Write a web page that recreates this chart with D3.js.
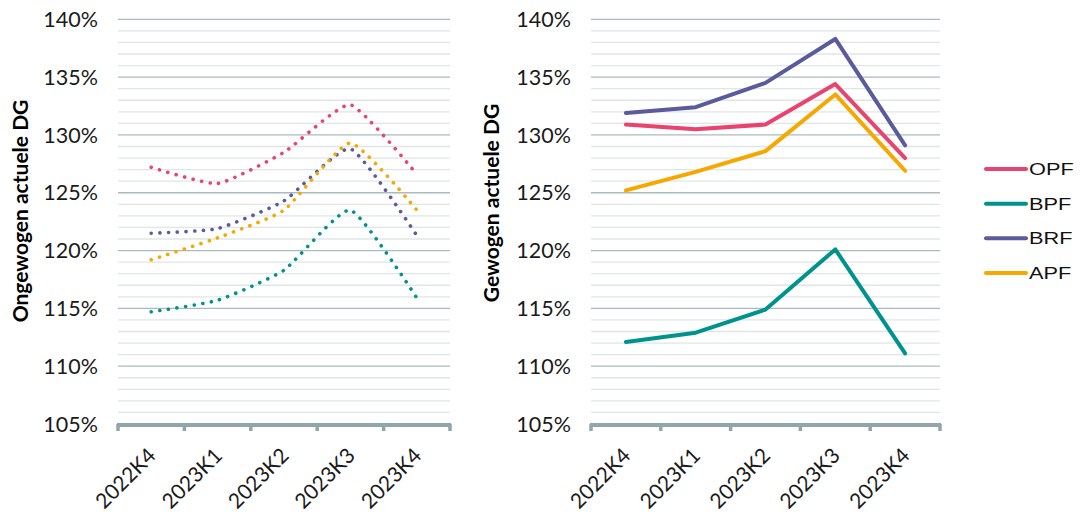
<!DOCTYPE html>
<html>
<head>
<meta charset="utf-8">
<script src="https://cdn.jsdelivr.net/npm/d3@7"></script>
<style>
  html, body { margin: 0; padding: 0; background: #ffffff; }
  svg { display: block; }
</style>
</head>
<body>
<svg id="chart" width="1083" height="512"></svg>
<script>
// Quarters on the x axis
const quarters = ["2022K4", "2023K1", "2023K2", "2023K3", "2023K4"];

// Series names and colours (legend order)
const seriesNames = ["OPF", "BPF", "BRF", "APF"];
const seriesColors = ["#e8446f", "#00938b", "#5a5a9c", "#f6a800"];

// Unweighted current coverage ratio (percent)
const unweightedOPF = [127.2, 125.8, 128.5, 132.6, 126.6];
const unweightedBPF = [114.7, 115.7, 118.3, 123.5, 115.9];
const unweightedBRF = [121.5, 121.9, 124.3, 128.8, 121.3];
const unweightedAPF = [119.2, 121.1, 123.5, 129.3, 123.5];

// Weighted current coverage ratio (percent)
const weightedOPF = [130.9, 130.5, 130.9, 134.4, 128.0];
const weightedBPF = [112.1, 112.9, 114.9, 120.1, 111.1];
const weightedBRF = [131.9, 132.4, 134.5, 138.3, 129.1];
const weightedAPF = [125.2, 126.8, 128.6, 133.5, 126.9];

// Axis ticks
const majorTicks = [105, 110, 115, 120, 125, 130, 135, 140];
const minorTicks = d3.range(105, 141, 1);

const svg = d3.select("#chart");

function drawPanel(opts) {
  const g = svg.append("g");
  const x = d3.scaleBand().domain(quarters).range([opts.x0, opts.x1]).padding(0);
  const y = d3.scaleLinear().domain([105, 140]).range([424, 19.3]);

  // minor gridlines
  g.append("g").selectAll("line")
    .data(minorTicks.filter(t => t % 5 !== 0))
    .join("line")
    .attr("x1", opts.x0).attr("x2", opts.x1)
    .attr("y1", d => y(d)).attr("y2", d => y(d))
    .attr("stroke", "#dfe6e6").attr("stroke-width", 1.3);

  // major gridlines
  g.append("g").selectAll("line")
    .data(majorTicks.filter(t => t !== 105))
    .join("line")
    .attr("x1", opts.x0).attr("x2", opts.x1)
    .attr("y1", d => y(d)).attr("y2", d => y(d))
    .attr("stroke", "#a9bcbd").attr("stroke-width", 1.3);

  // y tick labels
  g.append("g").selectAll("text")
    .data(majorTicks)
    .join("text")
    .attr("x", opts.x0 - 20)
    .attr("y", d => y(d))
    .attr("dy", "0.36em")
    .attr("text-anchor", "end")
    .attr("font-family", "Lato, sans-serif")
    .attr("font-size", 21.5)
    .attr("fill", "#1a1a1a")
    .text(d => d + "%");

  // x axis with ticks at category boundaries
  const bounds = quarters.map(q => x(q)).concat([opts.x1]);
  g.append("g").selectAll("line")
    .data(bounds)
    .join("line")
    .attr("x1", d => d).attr("x2", d => d)
    .attr("y1", 424).attr("y2", 431)
    .attr("stroke", "#8fa7aa").attr("stroke-width", 3.5);
  g.append("line")
    .attr("x1", opts.x0 - 1).attr("x2", opts.x1 + 1)
    .attr("y1", 425).attr("y2", 425)
    .attr("stroke", "#8fa7aa").attr("stroke-width", 4);

  // x tick labels, rotated
  g.append("g").selectAll("text")
    .data(quarters)
    .join("text")
    .attr("transform", d => `translate(${x(d) + x.bandwidth() / 2 + 6},${457}) rotate(-45)`)
    .attr("text-anchor", "end")
    .attr("font-family", "Lato, sans-serif")
    .attr("font-size", 21)
    .attr("fill", "#1a1a1a")
    .text(d => d);

  // y axis title
  g.append("text")
    .attr("transform", `translate(${opts.titleX},${opts.titleY}) rotate(-90)`)
    .attr("text-anchor", "middle")
    .attr("font-family", "Lato, sans-serif")
    .attr("font-weight", "bold")
    .attr("font-size", 21)
    .attr("fill", "#000")
    .text(opts.title);

  // series lines
  const line = d3.line()
    .x((d, i) => x(quarters[i]) + x.bandwidth() / 2)
    .y(d => y(d))
    .curve(opts.curve);

  opts.series.forEach((vals, i) => {
    const p = g.append("path")
      .datum(vals)
      .attr("d", line)
      .attr("fill", "none")
      .attr("stroke", seriesColors[i])
      .attr("stroke-linecap", "round")
      .attr("stroke-linejoin", "round");
    if (opts.dotted) {
      p.attr("stroke-width", 3.6).attr("stroke-dasharray", "0.1 8.6");
    } else {
      p.attr("stroke-width", 4);
    }
  });
}

drawPanel({
  x0: 118, x1: 450,
  title: "Ongewogen actuele DG", titleX: 28, titleY: 211,
  series: [unweightedOPF, unweightedBPF, unweightedBRF, unweightedAPF],
  dotted: true,
  curve: d3.curveCardinal.tension(0.5)
});

drawPanel({
  x0: 591, x1: 940,
  title: "Gewogen actuele DG", titleX: 499, titleY: 203,
  series: [weightedOPF, weightedBPF, weightedBRF, weightedAPF],
  dotted: false,
  curve: d3.curveLinear
});

// legend
const legend = svg.append("g");
const legendY = d3.scalePoint().domain(seriesNames).range([169, 273]);
seriesNames.forEach((name, i) => {
  legend.append("line")
    .attr("x1", 986).attr("x2", 1026)
    .attr("y1", legendY(name)).attr("y2", legendY(name))
    .attr("stroke", seriesColors[i]).attr("stroke-width", 4)
    .attr("stroke-linecap", "round");
  legend.append("text")
    .attr("transform", `translate(1029,${legendY(name)}) scale(1.28,1)`)
    .attr("dy", "0.36em")
    .attr("font-family", "Liberation Sans, Arial, sans-serif")
    .attr("font-size", 17)
    .attr("fill", "#111")
    .text(name);
});
</script>
</body>
</html>
